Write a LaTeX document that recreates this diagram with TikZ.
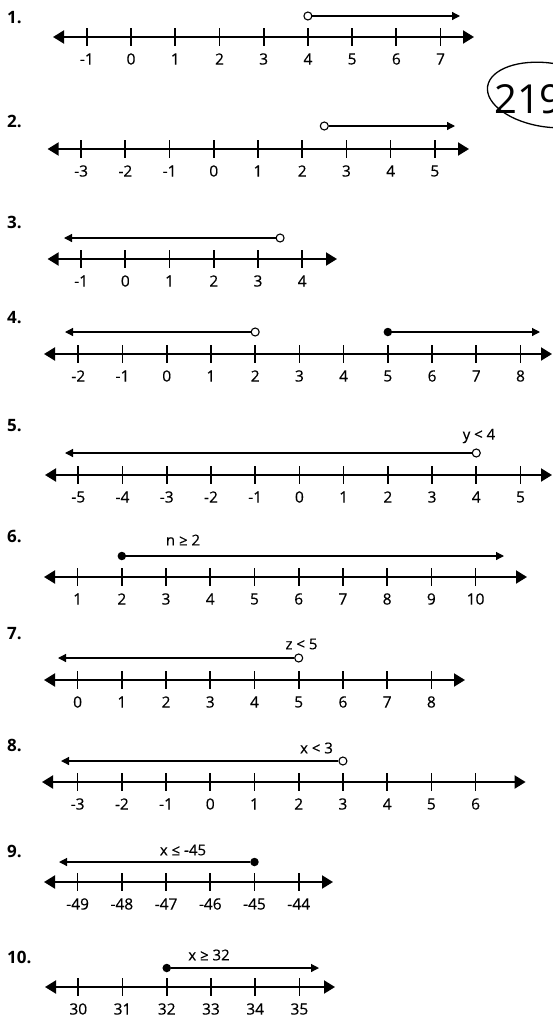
\documentclass[tikz,border=0pt]{standalone}
\usepackage{fontspec}
\setmainfont{Open Sans}
\newfontfamily\labfont[FakeBold=0.4]{Open Sans}
\usetikzlibrary{arrows.meta,shapes.geometric}
\tikzset{
  axisline/.style={line width=2pt,{Triangle[length=11pt,width=13pt]}-{Triangle[length=11pt,width=13pt]}},
  tickline/.style={line width=1.7pt},
  rayline/.style={line width=1.2pt},
  rayhead/.style={-{Triangle[length=8pt,width=8pt]}},
  rayheadleft/.style={{Triangle[length=8pt,width=8pt]}-},
  numlabel/.style={font=\labfont\fontsize{15.5}{15.5}\selectfont,inner sep=0pt},
  itemlabel/.style={font=\bfseries\fontsize{17}{17}\selectfont,anchor=west,inner sep=0pt},
  ineq/.style={font=\labfont\fontsize{15}{15}\selectfont,inner sep=0pt},
  opendot/.style={circle,draw,fill=white,line width=1.1pt,inner sep=0pt,minimum size=8pt},
  closeddot/.style={circle,fill,inner sep=0pt,minimum size=8.5pt},
  annot/.style={draw,ellipse,line width=1.3pt,inner sep=0pt,minimum width=122pt,minimum height=64pt,rotate=-8},
}
\newcommand\mknline[7]{%
  \coordinate (#1L) at (#3,#2);
  \coordinate (#1R) at (#4,#2);
  \draw[axisline] (#1L) -- (#1R);
  \foreach \i in {0,...,#7}{
    \pgfmathsetmacro\xx{#5+\i*44.22}
    \pgfmathtruncatemacro\vv{#6+\i}
    \coordinate (#1T\i) at (\xx,#2);
    \draw[tickline] ([yshift=9pt]#1T\i) -- ([yshift=-9pt]#1T\i);
    \node[numlabel] (#1N\i) at (\xx,#2+22) {\vv};
  }%
}
\begin{document}
\begin{tikzpicture}[x=1pt,y=-1pt]
\useasboundingbox (0,0) rectangle (553,1017);

% item numbers
\node[itemlabel] (q1) at (7,18) {1.};
\node[itemlabel] (q2) at (7,121) {2.};
\node[itemlabel] (q3) at (7,222) {3.};
\node[itemlabel] (q4) at (7,318) {4.};
\node[itemlabel] (q5) at (7,426) {5.};
\node[itemlabel] (q6) at (7,536) {6.};
\node[itemlabel] (q7) at (7,634) {7.};
\node[itemlabel] (q8) at (7,745) {8.};
\node[itemlabel] (q9) at (7,851) {9.};
\node[itemlabel] (q10) at (7,957) {10.};

% number lines
\mknline{a}{37}{53}{474}{86.8}{-1}{8}
\mknline{b}{149}{47.6}{469}{81.1}{-3}{8}
\mknline{c}{259}{47.6}{337}{81.1}{-1}{5}
\mknline{d}{354}{44}{552}{78.3}{-2}{10}
\mknline{e}{475}{45}{552}{78.3}{-5}{10}
\mknline{f}{577}{44}{527}{77.6}{1}{9}
\mknline{g}{680}{44}{465}{77.6}{0}{8}
\mknline{h}{782}{42}{525.6}{77.6}{-3}{9}
\mknline{k}{882}{44}{333}{77.6}{-49}{5}
\mknline{m}{987}{45}{335}{78.3}{30}{5}

% 1
\coordinate (a1e) at (460,16);
\node[opendot] (a1d) at (aT5 |- a1e) {};
\draw[rayline,rayhead] (a1d) -- (a1e);
% 2
\coordinate (b1e) at (455,126);
\node[opendot] (b1d) at (324.3,126) {};
\draw[rayline,rayhead] (b1d) -- (b1e);
% 3
\coordinate (c1e) at (64,238);
\node[opendot] (c1d) at (280.1,238) {};
\draw[rayline,rayheadleft] (c1e) -- (c1d);
% 4
\coordinate (d1e) at (65,332);
\node[opendot] (d1d) at (dT4 |- d1e) {};
\draw[rayline,rayheadleft] (d1e) -- (d1d);
\coordinate (d2e) at (540,332);
\node[closeddot] (d2d) at (dT7 |- d2e) {};
\draw[rayline,rayhead] (d2d) -- (d2e);
% 5
\coordinate (e1e) at (65,453);
\node[opendot] (e1d) at (eT9 |- e1e) {};
\draw[rayline,rayheadleft] (e1e) -- (e1d);
\node[ineq] (e1t) at (479,436) {y < 4};
% 6
\coordinate (f1e) at (504,556);
\node[closeddot] (f1d) at (fT1 |- f1e) {};
\draw[rayline,rayhead] (f1d) -- (f1e);
\node[ineq] (f1t) at (183,540) {n ≥ 2};
% 7
\coordinate (g1e) at (58,658);
\node[opendot] (g1d) at (gT5 |- g1e) {};
\draw[rayline,rayheadleft] (g1e) -- (g1d);
\node[ineq] (g1t) at (301.5,644) {z < 5};
% 8
\coordinate (h1e) at (61,761);
\node[opendot] (h1d) at (hT6 |- h1e) {};
\draw[rayline,rayheadleft] (h1e) -- (h1d);
\node[ineq] (h1t) at (316.5,748) {x < 3};
% 9
\coordinate (k1e) at (59,862);
\node[closeddot] (k1d) at (kT4 |- k1e) {};
\draw[rayline,rayheadleft] (k1e) -- (k1d);
\node[ineq] (k1t) at (183,850) {x ≤ -45};
% 10
\coordinate (m1e) at (319,968);
\node[closeddot] (m1d) at (mT2 |- m1e) {};
\draw[rayline,rayhead] (m1d) -- (m1e);
\node[ineq] (m1t) at (209,955) {x ≥ 32};

% handwritten annotation (cut by the right edge, as in the scan)
\node[annot] (an) at (548,95) {};
\node[anchor=west,inner sep=0pt,font=\fontsize{40}{40}\selectfont] (ant) at (494,99) {219};
\end{tikzpicture}
\end{document}
